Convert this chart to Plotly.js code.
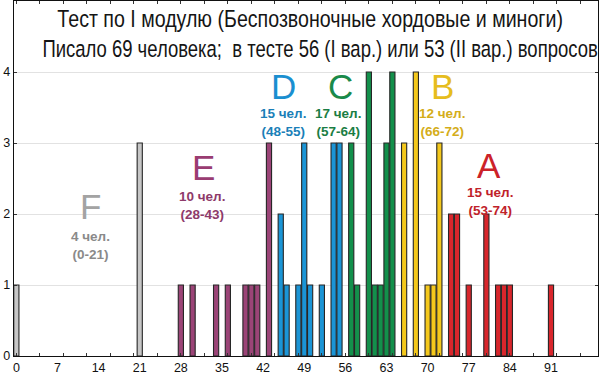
<!DOCTYPE html>
<html>
<head>
<meta charset="utf-8">
<script src="https://cdn.plot.ly/plotly-3.0.1.min.js"></script>
<style>html,body{margin:0;padding:0;background:#fff;}#chart{width:600px;height:374px;}</style>
</head>
<body>
<div id="chart"></div>
<script>
// Scores (x) and number of students (y) per grade group
const scoresF = [0, 21];
const countsF = [1, 3];
const scoresE = [28, 30, 34, 36, 39, 40, 41, 43];
const countsE = [1, 1, 1, 1, 1, 1, 1, 3];
const scoresD = [45, 46, 48, 49, 50, 52, 54, 55];
const countsD = [2, 1, 1, 3, 1, 1, 3, 3];
const scoresC = [57, 58, 60, 61, 62, 63, 64];
const countsC = [3, 1, 4, 1, 1, 3, 4];
const scoresB = [66, 68, 70, 71, 72];
const countsB = [3, 4, 1, 1, 3];
const scoresA = [74, 75, 77, 80, 82, 83, 84, 91];
const countsA = [2, 2, 1, 2, 1, 1, 1, 1];

const xTickLabels = [0, 7, 14, 21, 28, 35, 42, 49, 56, 63, 70, 77, 84, 91];
const yTickLabels = [0, 1, 2, 3, 4];

const groupLetters = ['F', 'E', 'D', 'C', 'B', 'A'];
const groupPeople = ['4 чел.', '10 чел.', '15 чел.', '17 чел.', '12 чел.', '15 чел.'];
const groupRanges = ['(0-21)', '(28-43)', '(48-55)', '(57-64)', '(66-72)', '(53-74)'];

const titleLine1 = 'Тест по I модулю (Беспозвоночные хордовые и миноги)';
const titleLine2 = 'Писало 69 человека;  в тесте 56 (I вар.) или 53 (II вар.) вопросов';

const fills = ['#c6c6c6', '#9b4477', '#1b95d6', '#13904b', '#f4c81c', '#d8262c'];
const textCols = ['#a3a3a3', '#9a3c72', '#1a8fd0', '#1a8a4a', '#e6bd1e', '#cc2229'];
const subCols = ['#8a8a8a', '#8e3a6a', '#1a7fb8', '#1a7d44', '#d4ad1a', '#c0222a'];
// annotation anchor positions (data coords) for letter & sub-label
const letterPos = [[12.6, 2.1], [31.8, 2.65], [45.5, 3.79], [55.2, 3.79], [72.6, 3.79], [80.4, 2.69]];
const subPos = [[12.6, 1.56], [31.6, 2.12], [45.3, 3.29], [54.7, 3.29], [72.4, 3.29], [80.6, 2.18]];

const xs = [scoresF, scoresE, scoresD, scoresC, scoresB, scoresA];
const ys = [countsF, countsE, countsD, countsC, countsB, countsA];

const traces = xs.map((x, i) => ({
  type: 'bar', x: x, y: ys[i], width: 0.88,
  marker: {color: fills[i], line: {color: '#262626', width: 1.1}},
  hoverinfo: 'x+y', showlegend: false
}));

const annotations = [
  {x: 0.507, y: 0.949, xref: 'paper', yref: 'paper', text: titleLine1, showarrow: false,
   xanchor: 'center', yanchor: 'middle',
   font: {family: 'Liberation Sans, Arial, sans-serif', size: 23.5, color: '#151515'}},
  {x: 0.524, y: 0.864, xref: 'paper', yref: 'paper', text: titleLine2, showarrow: false,
   xanchor: 'center', yanchor: 'middle',
   font: {family: 'Liberation Sans, Arial, sans-serif', size: 23.5, color: '#151515'}}
];
const titleWidths = [506, 556];

groupLetters.forEach((L, i) => {
  annotations.push({x: letterPos[i][0], y: letterPos[i][1], xref: 'x', yref: 'y', text: L,
    showarrow: false, font: {family: 'Liberation Sans, Arial, sans-serif', size: 35, color: textCols[i]}});
  annotations.push({x: subPos[i][0], y: subPos[i][1], xref: 'x', yref: 'y',
    text: '<b>' + groupPeople[i] + '<br>' + groupRanges[i] + '</b>',
    showarrow: false, font: {family: 'Liberation Sans, Arial, sans-serif', size: 13.5, color: subCols[i]}});
});

const minorTicks = [];
for (let v = 0; v <= 98; v += 4) minorTicks.push(v);

const layout = {
  width: 600, height: 374,
  margin: {l: 14, r: 2, t: 1, b: 18},
  paper_bgcolor: '#ffffff', plot_bgcolor: '#ffffff',
  bargap: 0,
  xaxis: {
    range: [-0.4, 99], tickvals: xTickLabels, ticktext: xTickLabels.map(String),
    ticks: '', showgrid: false, zeroline: false,
    showline: true, linecolor: '#111', linewidth: 1.2, mirror: true,
    tickfont: {family: 'Liberation Sans, Arial, sans-serif', size: 12.5, color: '#111'},
    fixedrange: true
  },
  xaxis2: {
    overlaying: 'x', anchor: 'y', side: 'bottom',
    range: [-0.4, 99], tickvals: minorTicks, showticklabels: false,
    ticks: 'inside', ticklen: 3, tickcolor: '#333', mirror: 'ticks',
    showgrid: false, zeroline: false, showline: false
  },
  yaxis: {
    range: [0, 5], tickvals: yTickLabels, ticktext: yTickLabels.map(String),
    ticks: 'inside', ticklen: 3, tickcolor: '#333',
    showgrid: true, gridcolor: '#e2e2e2', gridwidth: 1, zeroline: false,
    showline: true, linecolor: '#111', linewidth: 1.2, mirror: 'ticks',
    tickfont: {family: 'Liberation Sans, Arial, sans-serif', size: 12.5, color: '#111'},
    fixedrange: true
  },
  annotations: annotations
};

traces.push({type: 'scatter', x: [0], y: [0], xaxis: 'x2', mode: 'markers',
  marker: {opacity: 0}, hoverinfo: 'skip', showlegend: false});

Plotly.newPlot('chart', traces, layout, {displayModeBar: false, staticPlot: true}).then(gd => {
  // condense the title lines horizontally (reference uses a narrow font)
  [0, 1].forEach(i => {
    const el = gd.querySelector('g.annotation[data-index="' + i + '"] text.annotation-text');
    if (!el) return;
    const bb = el.getBBox();
    const s = titleWidths[i] / bb.width;
    const cx = bb.x + bb.width / 2;
    const prev = el.getAttribute('transform') || '';
    el.setAttribute('transform', prev + ' translate(' + cx + ',0) scale(' + s + ',1) translate(' + (-cx) + ',0)');
  });
});
</script>
</body>
</html>
